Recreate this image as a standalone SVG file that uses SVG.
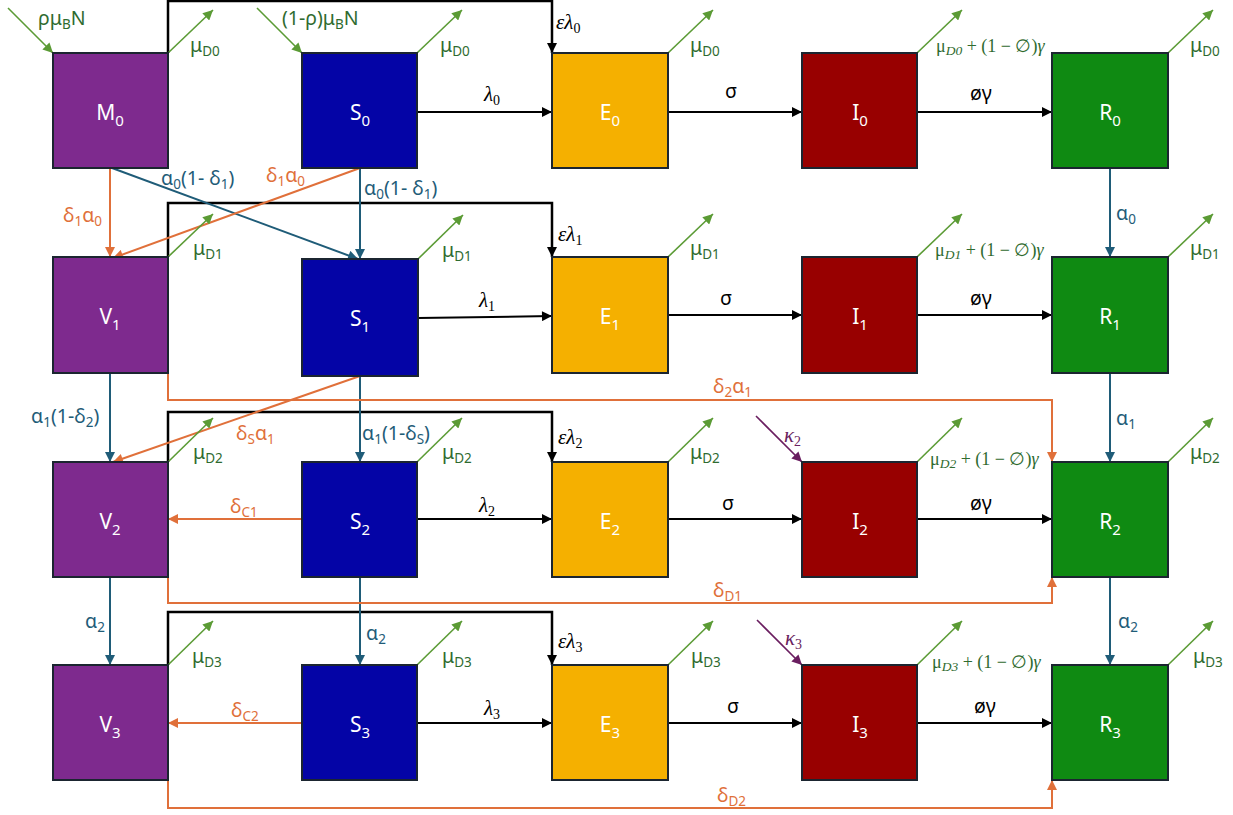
<svg xmlns="http://www.w3.org/2000/svg" width="1233" height="815" viewBox="0 0 1233 815">
<style>
.box{stroke:#1b2530;stroke-width:2}
.M{fill:#7E2A8E}.S{fill:#0404A6}.E{fill:#F5B000}.I{fill:#980000}.R{fill:#0F8A12}
.nl{font-family:"Noto Sans","Open Sans",sans-serif;font-size:21px;fill:#fff;text-anchor:middle}
.nl tspan{font-size:15px}
.lb{font-family:"Noto Sans","Open Sans",sans-serif;font-size:19.5px}
.mt{font-family:"Liberation Serif","DejaVu Serif",serif;font-style:italic;font-size:21px}
.mt .s{font-style:normal;font-size:14px}
.ml{font-family:"Liberation Serif","DejaVu Serif",serif;font-size:18px;fill:#2F6B2F}
.s{font-size:13.5px}
.tl{fill:#1F5C78}.or{fill:#E0703A}.gn{fill:#2F6B2F}.bk{fill:#000}.pu{fill:#6A1E60}
.c{fill:none}
.cb{stroke:#000;stroke-width:2}
.cl{stroke:#000;stroke-width:2.5}
.ct{stroke:#1F5C78;stroke-width:2}
.co{stroke:#E0703A;stroke-width:2}
.cg{stroke:#5B9B35;stroke-width:1.6}
.cp{stroke:#6A1E60;stroke-width:1.6}
</style>
<defs>
<marker id="ab" viewBox="0 0 10 10" refX="10" refY="5" markerWidth="11" markerHeight="10" markerUnits="userSpaceOnUse" orient="auto"><path d="M0,0L10,5L0,10z" fill="#000"/></marker>
<marker id="at" viewBox="0 0 10 10" refX="10" refY="5" markerWidth="11" markerHeight="10" markerUnits="userSpaceOnUse" orient="auto"><path d="M0,0L10,5L0,10z" fill="#1F5C78"/></marker>
<marker id="ao" viewBox="0 0 10 10" refX="10" refY="5" markerWidth="11" markerHeight="10" markerUnits="userSpaceOnUse" orient="auto"><path d="M0,0L10,5L0,10z" fill="#E0703A"/></marker>
<marker id="ag" viewBox="0 0 10 10" refX="10" refY="5" markerWidth="11" markerHeight="10" markerUnits="userSpaceOnUse" orient="auto"><path d="M0,0L10,5L0,10z" fill="#5B9B35"/></marker>
<marker id="ap" viewBox="0 0 10 10" refX="10" refY="5" markerWidth="11" markerHeight="10" markerUnits="userSpaceOnUse" orient="auto"><path d="M0,0L10,5L0,10z" fill="#6A1E60"/></marker>
</defs>
<rect width="1233" height="815" fill="#fff"/>

<g id="connectors" class="c">
<path class="cl" d="M168,53V1H552V53" marker-end="url(#ab)"/>
<path class="cl" d="M168,257V203H552V257" marker-end="url(#ab)"/>
<path class="cl" d="M168,462V412H552V462" marker-end="url(#ab)"/>
<path class="cl" d="M168,665V612H552V665" marker-end="url(#ab)"/>
<path class="cb" d="M417,112H552" marker-end="url(#ab)"/>
<path class="cb" d="M668,112H802" marker-end="url(#ab)"/>
<path class="cb" d="M917,112H1052" marker-end="url(#ab)"/>
<path class="cb" d="M418,318L552,316" marker-end="url(#ab)"/>
<path class="cb" d="M668,315H802" marker-end="url(#ab)"/>
<path class="cb" d="M917,315H1052" marker-end="url(#ab)"/>
<path class="cb" d="M417,519H552" marker-end="url(#ab)"/>
<path class="cb" d="M668,519H802" marker-end="url(#ab)"/>
<path class="cb" d="M917,519H1052" marker-end="url(#ab)"/>
<path class="cb" d="M417,723H552" marker-end="url(#ab)"/>
<path class="cb" d="M668,723H802" marker-end="url(#ab)"/>
<path class="cb" d="M917,723H1052" marker-end="url(#ab)"/>
<path class="ct" d="M112,168L358,259" marker-end="url(#at)"/>
<path class="ct" d="M360,168V259" marker-end="url(#at)"/>
<path class="ct" d="M1110,168V257" marker-end="url(#at)"/>
<path class="ct" d="M110,373V462" marker-end="url(#at)"/>
<path class="ct" d="M360,376V462" marker-end="url(#at)"/>
<path class="ct" d="M1110,373V462" marker-end="url(#at)"/>
<path class="ct" d="M110,577V665" marker-end="url(#at)"/>
<path class="ct" d="M360,577V665" marker-end="url(#at)"/>
<path class="ct" d="M1110,577V665" marker-end="url(#at)"/>
<path class="co" d="M110,168V257" marker-end="url(#ao)"/>
<path class="co" d="M360,168L113,258" marker-end="url(#ao)"/>
<path class="co" d="M360,376L113,462" marker-end="url(#ao)"/>
<path class="co" d="M168,373V400H1052V462" marker-end="url(#ao)"/>
<path class="co" d="M302,519H168" marker-end="url(#ao)"/>
<path class="co" d="M168,577V603H1052V577" marker-end="url(#ao)"/>
<path class="co" d="M302,723H168" marker-end="url(#ao)"/>
<path class="co" d="M168,780V808H1052V780" marker-end="url(#ao)"/>
<path class="cg" d="M8,8L53,53" marker-end="url(#ag)"/>
<path class="cg" d="M257,8L302,53" marker-end="url(#ag)"/>
<path class="cg" d="M168,53L213,10" marker-end="url(#ag)"/>
<path class="cg" d="M417,53L462,10" marker-end="url(#ag)"/>
<path class="cg" d="M668,53L713,10" marker-end="url(#ag)"/>
<path class="cg" d="M917,53L962,10" marker-end="url(#ag)"/>
<path class="cg" d="M1168,53L1213,10" marker-end="url(#ag)"/>
<path class="cg" d="M168,257L213,214" marker-end="url(#ag)"/>
<path class="cg" d="M418,259L463,215" marker-end="url(#ag)"/>
<path class="cg" d="M668,257L713,214" marker-end="url(#ag)"/>
<path class="cg" d="M917,257L962,214" marker-end="url(#ag)"/>
<path class="cg" d="M1168,257L1213,214" marker-end="url(#ag)"/>
<path class="cg" d="M168,462L213,418" marker-end="url(#ag)"/>
<path class="cg" d="M417,462L462,418" marker-end="url(#ag)"/>
<path class="cg" d="M668,462L713,418" marker-end="url(#ag)"/>
<path class="cg" d="M917,462L962,418" marker-end="url(#ag)"/>
<path class="cg" d="M1168,462L1213,418" marker-end="url(#ag)"/>
<path class="cg" d="M168,665L213,621" marker-end="url(#ag)"/>
<path class="cg" d="M417,665L462,621" marker-end="url(#ag)"/>
<path class="cg" d="M668,665L713,621" marker-end="url(#ag)"/>
<path class="cg" d="M917,665L962,621" marker-end="url(#ag)"/>
<path class="cg" d="M1168,665L1213,621" marker-end="url(#ag)"/>
<path class="cp" d="M756,416L802,462" marker-end="url(#ap)"/>
<path class="cp" d="M757,620L802,665" marker-end="url(#ap)"/>

<text class="lb gn" x="38" y="25">ρμ<tspan class="s" dy="4">B</tspan><tspan dy="-4">N</tspan></text>
<text class="lb gn" x="282" y="25">(1-ρ)μ<tspan class="s" dy="4">B</tspan><tspan dy="-4">N</tspan></text>
<text class="lb tl" x="161" y="185">α<tspan class="s" dy="4">0</tspan><tspan dy="-4">(1- δ</tspan><tspan class="s" dy="4">1</tspan><tspan dy="-4">)</tspan></text>
<text class="lb or" x="266" y="182">δ<tspan class="s" dy="4">1</tspan><tspan dy="-4">α</tspan><tspan class="s" dy="4">0</tspan></text>
<text class="lb tl" x="364" y="195">α<tspan class="s" dy="4">0</tspan><tspan dy="-4">(1- δ</tspan><tspan class="s" dy="4">1</tspan><tspan dy="-4">)</tspan></text>
<text class="lb or" x="63" y="222">δ<tspan class="s" dy="4">1</tspan><tspan dy="-4">α</tspan><tspan class="s" dy="4">0</tspan></text>
<text class="lb tl" x="1116" y="220">α<tspan class="s" dy="4">0</tspan></text>
<text class="lb or" x="713" y="393">δ<tspan class="s" dy="4">2</tspan><tspan dy="-4">α</tspan><tspan class="s" dy="4">1</tspan></text>
<text class="lb tl" x="1116" y="425">α<tspan class="s" dy="4">1</tspan></text>
<text class="lb tl" x="31" y="423">α<tspan class="s" dy="4">1</tspan><tspan dy="-4">(1-δ</tspan><tspan class="s" dy="4">2</tspan><tspan dy="-4">)</tspan></text>
<text class="lb or" x="236" y="440">δ<tspan class="s" dy="4">S</tspan><tspan dy="-4">α</tspan><tspan class="s" dy="4">1</tspan></text>
<text class="lb tl" x="362" y="440">α<tspan class="s" dy="4">1</tspan><tspan dy="-4">(1-δ</tspan><tspan class="s" dy="4">S</tspan><tspan dy="-4">)</tspan></text>
<text class="lb or" x="230" y="513">δ<tspan class="s" dy="4">C1</tspan></text>
<text class="lb or" x="713" y="597">δ<tspan class="s" dy="4">D1</tspan></text>
<text class="lb tl" x="85" y="628">α<tspan class="s" dy="4">2</tspan></text>
<text class="lb tl" x="366" y="640">α<tspan class="s" dy="4">2</tspan></text>
<text class="lb tl" x="1118" y="628">α<tspan class="s" dy="4">2</tspan></text>
<text class="lb or" x="231" y="717">δ<tspan class="s" dy="4">C2</tspan></text>
<text class="lb or" x="717" y="802">δ<tspan class="s" dy="4">D2</tspan></text>

<text class="mt bk" x="556" y="29">ελ<tspan class="s" dy="4">0</tspan></text>
<text class="mt bk" x="558" y="241">ελ<tspan class="s" dy="4">1</tspan></text>
<text class="mt bk" x="558" y="444">ελ<tspan class="s" dy="4">2</tspan></text>
<text class="mt bk" x="558" y="648">ελ<tspan class="s" dy="4">3</tspan></text>
<text class="mt bk" x="484" y="101">λ<tspan class="s" dy="4">0</tspan></text>
<text class="mt bk" x="479" y="307">λ<tspan class="s" dy="4">1</tspan></text>
<text class="mt bk" x="479" y="512">λ<tspan class="s" dy="4">2</tspan></text>
<text class="mt bk" x="484" y="715">λ<tspan class="s" dy="4">3</tspan></text>
<text class="mt pu" x="784" y="442">κ<tspan class="s" dy="4">2</tspan></text>
<text class="mt pu" x="785" y="645">κ<tspan class="s" dy="4">3</tspan></text>

<text class="lb bk" x="725" y="98">σ</text>
<text class="lb bk" x="720" y="305">σ</text>
<text class="lb bk" x="722" y="510">σ</text>
<text class="lb bk" x="727" y="713">σ</text>
<text class="lb bk" x="970" y="100">øγ</text>
<text class="lb bk" x="970" y="305">øγ</text>
<text class="lb bk" x="970" y="510">øγ</text>
<text class="lb bk" x="974" y="713">øγ</text>

<text class="lb gn" x="190" y="52">μ<tspan class="s" dy="4">D0</tspan></text>
<text class="lb gn" x="440" y="52">μ<tspan class="s" dy="4">D0</tspan></text>
<text class="lb gn" x="690" y="52">μ<tspan class="s" dy="4">D0</tspan></text>
<text class="lb gn" x="1190" y="52">μ<tspan class="s" dy="4">D0</tspan></text>
<text class="lb gn" x="193" y="255">μ<tspan class="s" dy="4">D1</tspan></text>
<text class="lb gn" x="442" y="257">μ<tspan class="s" dy="4">D1</tspan></text>
<text class="lb gn" x="690" y="255">μ<tspan class="s" dy="4">D1</tspan></text>
<text class="lb gn" x="1190" y="255">μ<tspan class="s" dy="4">D1</tspan></text>
<text class="lb gn" x="193" y="459">μ<tspan class="s" dy="4">D2</tspan></text>
<text class="lb gn" x="442" y="459">μ<tspan class="s" dy="4">D2</tspan></text>
<text class="lb gn" x="690" y="459">μ<tspan class="s" dy="4">D2</tspan></text>
<text class="lb gn" x="1190" y="459">μ<tspan class="s" dy="4">D2</tspan></text>
<text class="lb gn" x="192" y="663">μ<tspan class="s" dy="4">D3</tspan></text>
<text class="lb gn" x="442" y="663">μ<tspan class="s" dy="4">D3</tspan></text>
<text class="lb gn" x="691" y="663">μ<tspan class="s" dy="4">D3</tspan></text>
<text class="lb gn" x="1193" y="663">μ<tspan class="s" dy="4">D3</tspan></text>

<text class="ml" x="936" y="52">μ<tspan class="s" font-style="italic" dy="3">D0</tspan><tspan dy="-3"> + (1 − ∅)</tspan><tspan font-style="italic">γ</tspan></text>
<text class="ml" x="935" y="256">μ<tspan class="s" font-style="italic" dy="3">D1</tspan><tspan dy="-3"> + (1 − ∅)</tspan><tspan font-style="italic">γ</tspan></text>
<text class="ml" x="930" y="465">μ<tspan class="s" font-style="italic" dy="3">D2</tspan><tspan dy="-3"> + (1 − ∅)</tspan><tspan font-style="italic">γ</tspan></text>
<text class="ml" x="932" y="668">μ<tspan class="s" font-style="italic" dy="3">D3</tspan><tspan dy="-3"> + (1 − ∅)</tspan><tspan font-style="italic">γ</tspan></text>
</g>

<g id="M0"><rect class="box M" x="53" y="53" width="115" height="115"/><text class="nl" x="110" y="120">M<tspan dy="6">0</tspan></text></g>
<g id="S0"><rect class="box S" x="302" y="53" width="115" height="115"/><text class="nl" x="360" y="120">S<tspan dy="6">0</tspan></text></g>
<g id="E0"><rect class="box E" x="552" y="53" width="116" height="115"/><text class="nl" x="610" y="120">E<tspan dy="6">0</tspan></text></g>
<g id="I0"><rect class="box I" x="802" y="53" width="115" height="115"/><text class="nl" x="860" y="120">I<tspan dy="6">0</tspan></text></g>
<g id="R0"><rect class="box R" x="1052" y="53" width="116" height="115"/><text class="nl" x="1110" y="120">R<tspan dy="6">0</tspan></text></g>

<g id="V1"><rect class="box M" x="53" y="257" width="115" height="116"/><text class="nl" x="110" y="324">V<tspan dy="6">1</tspan></text></g>
<g id="S1"><rect class="box S" x="302" y="259" width="116" height="117"/><text class="nl" x="360" y="326">S<tspan dy="6">1</tspan></text></g>
<g id="E1"><rect class="box E" x="552" y="257" width="116" height="116"/><text class="nl" x="610" y="324">E<tspan dy="6">1</tspan></text></g>
<g id="I1"><rect class="box I" x="802" y="257" width="115" height="116"/><text class="nl" x="860" y="324">I<tspan dy="6">1</tspan></text></g>
<g id="R1"><rect class="box R" x="1052" y="257" width="116" height="116"/><text class="nl" x="1110" y="324">R<tspan dy="6">1</tspan></text></g>

<g id="V2"><rect class="box M" x="53" y="462" width="115" height="115"/><text class="nl" x="110" y="529">V<tspan dy="6">2</tspan></text></g>
<g id="S2"><rect class="box S" x="302" y="462" width="115" height="115"/><text class="nl" x="360" y="529">S<tspan dy="6">2</tspan></text></g>
<g id="E2"><rect class="box E" x="552" y="462" width="116" height="115"/><text class="nl" x="610" y="529">E<tspan dy="6">2</tspan></text></g>
<g id="I2"><rect class="box I" x="802" y="462" width="115" height="115"/><text class="nl" x="860" y="529">I<tspan dy="6">2</tspan></text></g>
<g id="R2"><rect class="box R" x="1052" y="462" width="116" height="115"/><text class="nl" x="1110" y="529">R<tspan dy="6">2</tspan></text></g>

<g id="V3"><rect class="box M" x="53" y="665" width="115" height="115"/><text class="nl" x="110" y="732">V<tspan dy="6">3</tspan></text></g>
<g id="S3"><rect class="box S" x="302" y="665" width="115" height="115"/><text class="nl" x="360" y="732">S<tspan dy="6">3</tspan></text></g>
<g id="E3"><rect class="box E" x="552" y="665" width="116" height="115"/><text class="nl" x="610" y="732">E<tspan dy="6">3</tspan></text></g>
<g id="I3"><rect class="box I" x="802" y="665" width="115" height="115"/><text class="nl" x="860" y="732">I<tspan dy="6">3</tspan></text></g>
<g id="R3"><rect class="box R" x="1052" y="665" width="116" height="115"/><text class="nl" x="1110" y="732">R<tspan dy="6">3</tspan></text></g>
</svg>
